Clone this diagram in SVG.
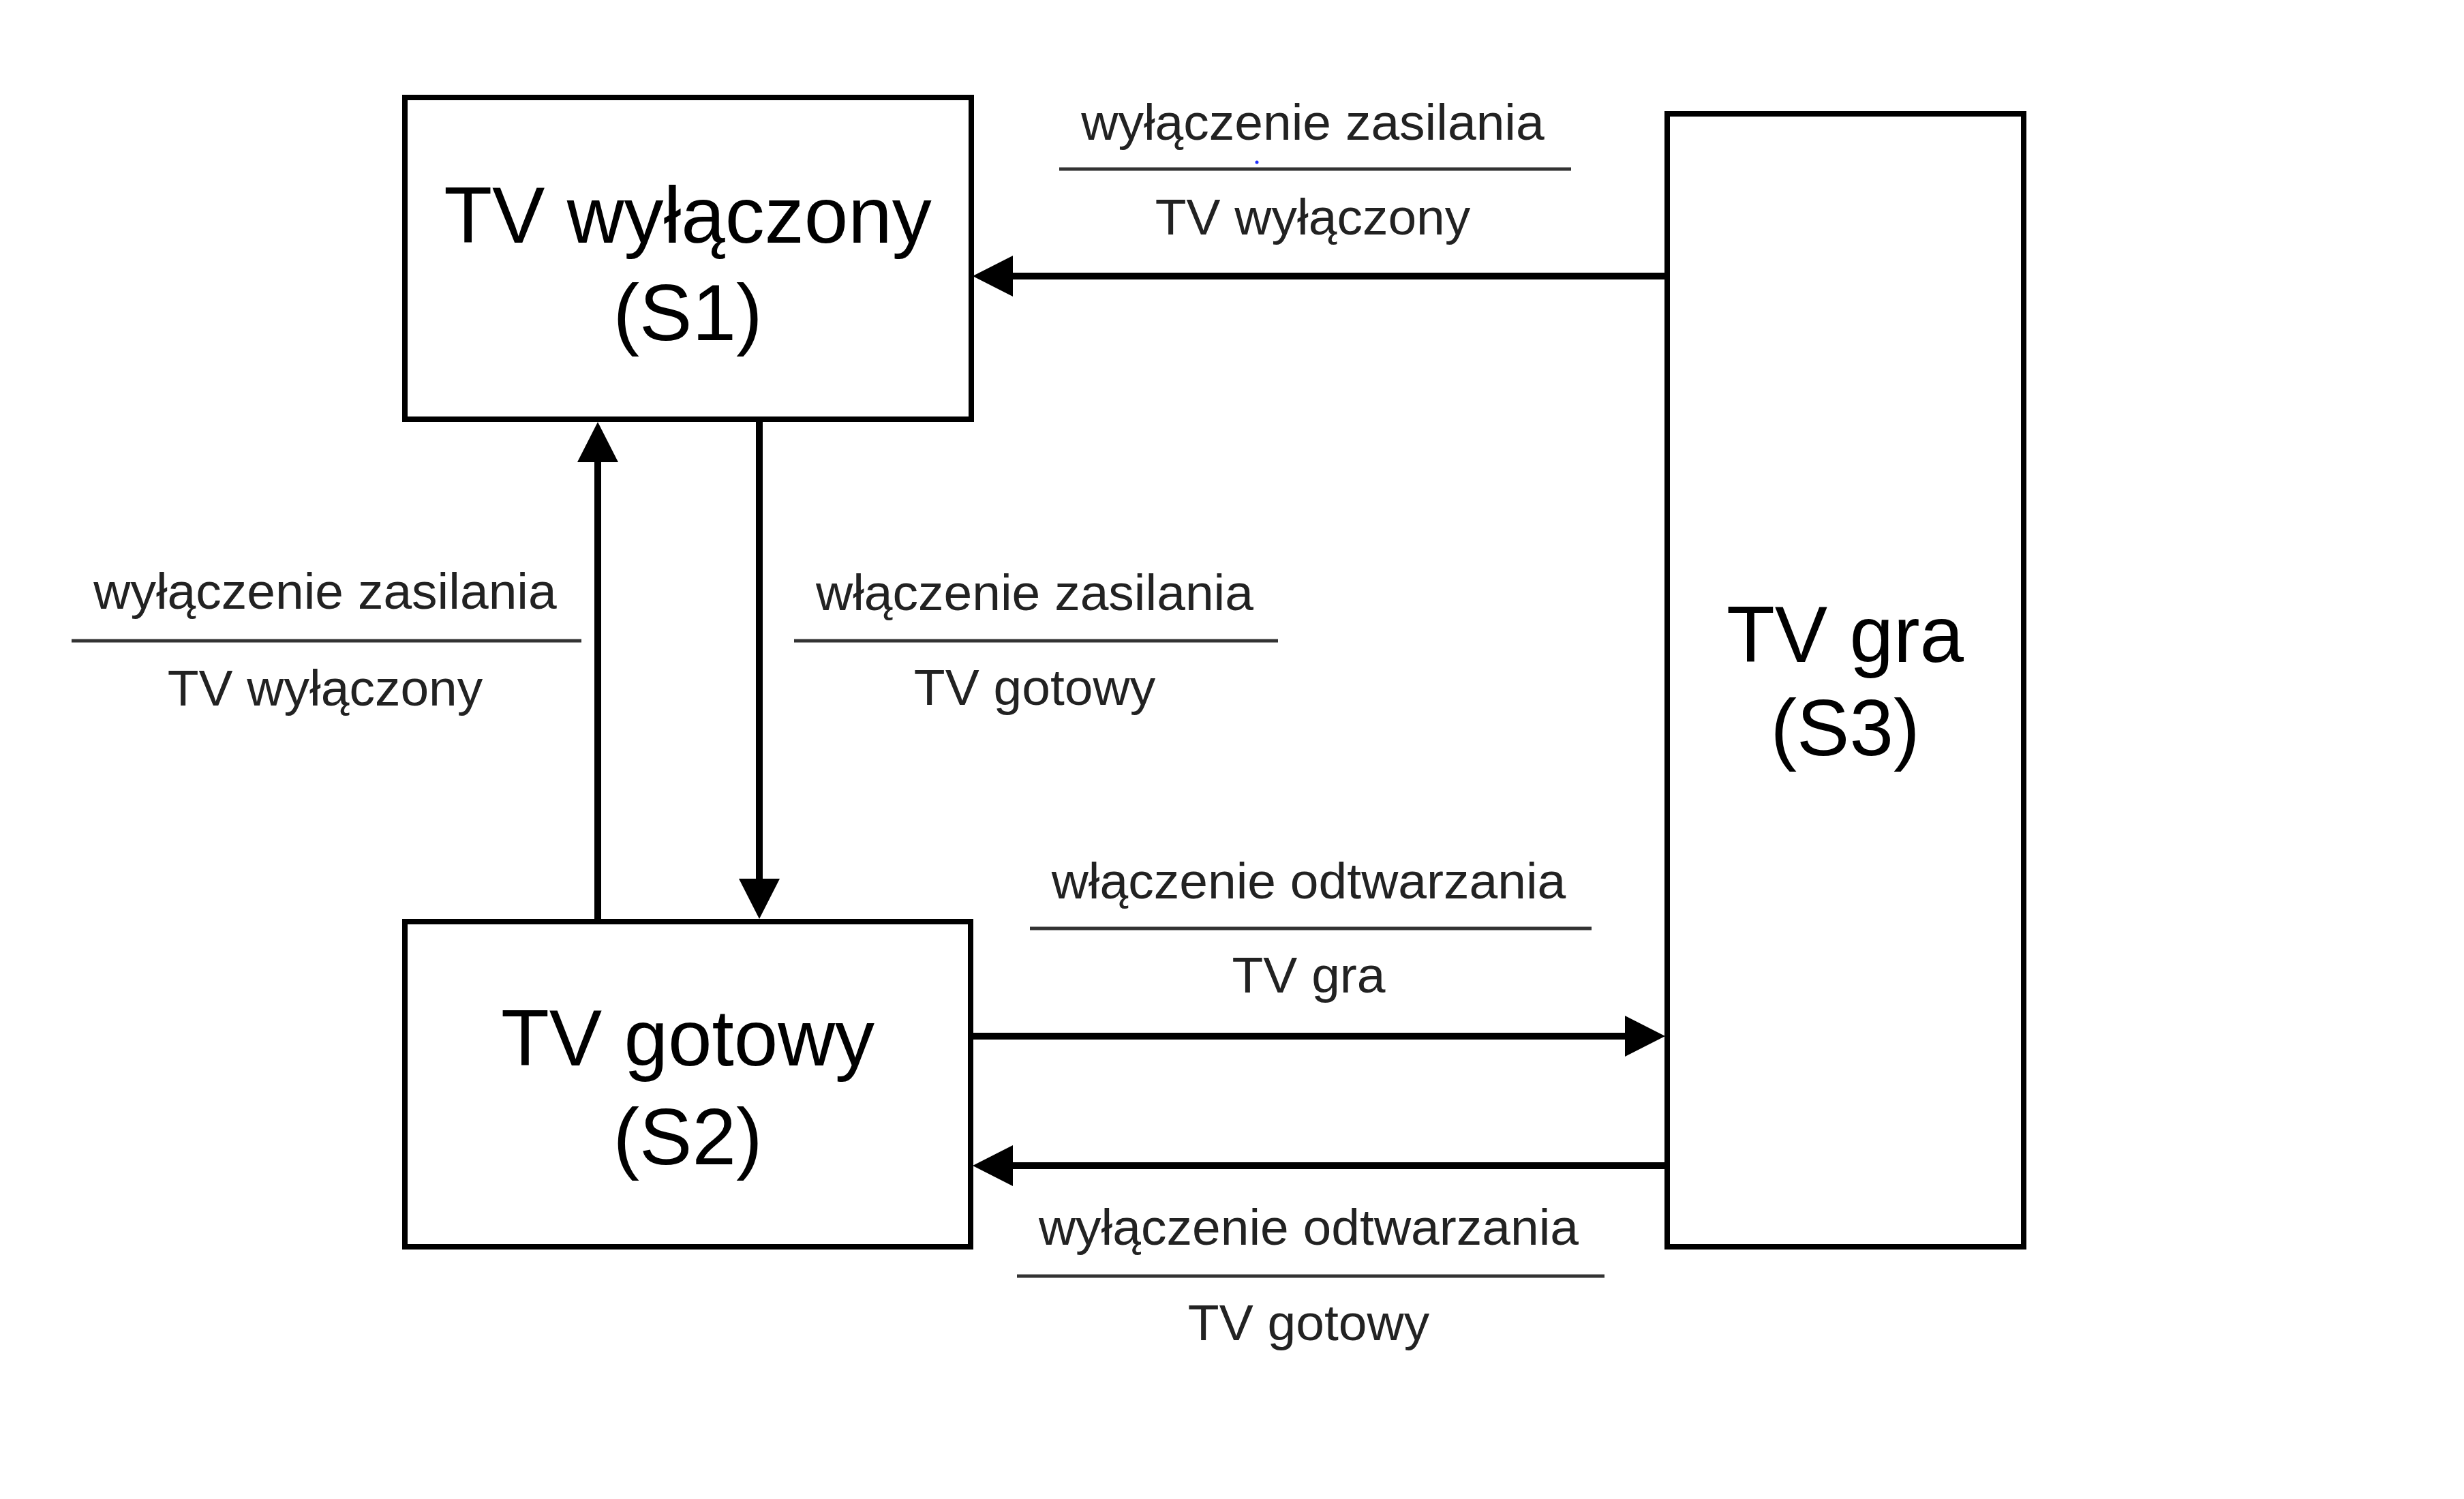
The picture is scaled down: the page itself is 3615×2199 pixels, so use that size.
<svg xmlns="http://www.w3.org/2000/svg" width="3615" height="2199" viewBox="0 0 3615 2199">
<style>
.box{fill:#fff;stroke:#000;stroke-width:8}
.big{font-family:"Liberation Sans",Arial,sans-serif;font-size:116px;fill:#000;text-anchor:middle}
.lbl{font-family:"Liberation Sans",Arial,sans-serif;font-size:75px;fill:#222;text-anchor:middle}
.sep{stroke:#333;stroke-width:5}
.arr{stroke:#000;stroke-width:10;fill:none;marker-end:url(#head)}
</style>
<defs>
<marker id="head" viewBox="0 0 59 60" markerWidth="59" markerHeight="60" markerUnits="userSpaceOnUse" refX="0" refY="30" orient="auto">
<path d="M0,0 L59,30 L0,60 Z" fill="#000"/>
</marker>
</defs>
<rect width="3615" height="2199" fill="#fff"/>
<g id="S1">
<rect class="box" x="594" y="143" width="831" height="472"/>
<text class="big" x="1009" y="356">TV wyłączony</text>
<text class="big" x="1009" y="499">(S1)</text>
</g>
<g id="S2">
<rect class="box" x="594" y="1352" width="830" height="477"/>
<text class="big" x="1009" y="1563">TV gotowy</text>
<text class="big" x="1009" y="1708">(S2)</text>
</g>
<g id="S3">
<rect class="box" x="2446" y="167" width="523" height="1662"/>
<text class="big" x="2707" y="971">TV gra</text>
<text class="big" x="2707" y="1108">(S3)</text>
</g>
<g id="connectors">
<line class="arr" x1="2446" y1="405" x2="1486" y2="405"/>
<line class="arr" x1="877" y1="1352" x2="877" y2="678"/>
<line class="arr" x1="1114" y1="615" x2="1114" y2="1289"/>
<line class="arr" x1="1424" y1="1520" x2="2384" y2="1520"/>
<line class="arr" x1="2446" y1="1710" x2="1486" y2="1710"/>
</g>
<g id="labels">
<g id="label-s3-s1">
<text class="lbl" x="1926" y="205">wyłączenie zasilania</text>
<line class="sep" x1="1554" y1="248" x2="2305" y2="248"/>
<text class="lbl" x="1926" y="344">TV wyłączony</text>
<circle cx="1844" cy="238" r="2.5" fill="#2030ff"/>
</g>
<g id="label-s2-s1">
<text class="lbl" x="477" y="893">wyłączenie zasilania</text>
<line class="sep" x1="105" y1="940" x2="853" y2="940"/>
<text class="lbl" x="477" y="1035">TV wyłączony</text>
</g>
<g id="label-s1-s2">
<text class="lbl" x="1518" y="895">włączenie zasilania</text>
<line class="sep" x1="1165" y1="940" x2="1875" y2="940"/>
<text class="lbl" x="1518" y="1034">TV gotowy</text>
</g>
<g id="label-s2-s3">
<text class="lbl" x="1920" y="1318">włączenie odtwarzania</text>
<line class="sep" x1="1511" y1="1362" x2="2335" y2="1362"/>
<text class="lbl" x="1920" y="1456">TV gra</text>
</g>
<g id="label-s3-s2">
<text class="lbl" x="1920" y="1826">wyłączenie odtwarzania</text>
<line class="sep" x1="1492" y1="1872" x2="2354" y2="1872"/>
<text class="lbl" x="1920" y="1966">TV gotowy</text>
</g>
</g>
</svg>
